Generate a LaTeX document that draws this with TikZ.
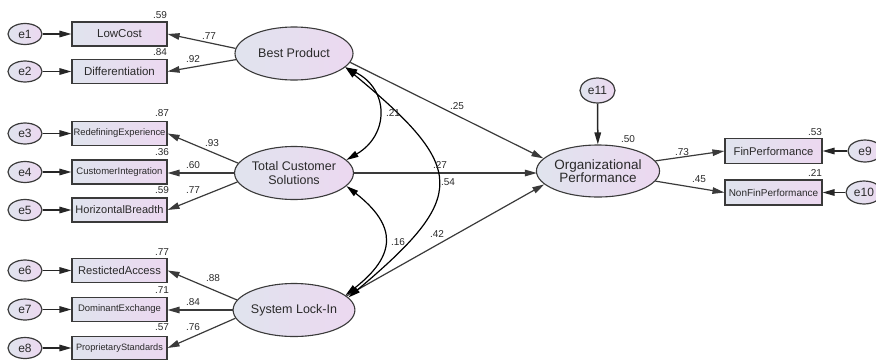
\documentclass[tikz,border=0pt]{standalone}
\usepackage{fontspec}
\setmainfont{Liberation Sans}
\usetikzlibrary{arrows.meta,shapes.geometric,calc}
\definecolor{lineg}{HTML}{3A3A3A}
\definecolor{fillL}{HTML}{E0E4EE}
\definecolor{fillR}{HTML}{ECD8F0}
\definecolor{txt}{HTML}{2A2A2A}
\tikzset{
  fs/.style={font=\fontsize{#1}{#1}\selectfont},
  obs/.style={draw=lineg, line width=1.1pt, rectangle, minimum width=95pt, minimum height=24pt,
    inner sep=0pt, left color=fillL, right color=fillR, text=txt},
  lat/.style={draw=lineg, line width=1.1pt, ellipse, minimum width=118pt, minimum height=53pt,
    inner sep=0pt, left color=fillL, right color=fillR, text=txt, align=center},
  err/.style={draw=lineg, line width=1.2pt, ellipse, minimum width=34pt, minimum height=21pt,
    inner sep=0pt, left color=fillL, right color=fillR, text=txt, fs=12},
  tip/.tip={Triangle[length=12pt,width=6.5pt]},
  reg/.style={draw=lineg, line width=1.2pt, -tip},
  ereg/.style={draw=black!85, line width=1.5pt, -tip},
  cov/.style={draw=black, line width=1.2pt, tip-tip},
  lbl/.style={fs=10, text=txt, inner sep=0pt},
}
\begin{document}
\begin{tikzpicture}[x=1pt,y=-1pt]
\useasboundingbox (0,0) rectangle (876,360);

% indicators left
\node[obs, fs=11.5] (x1) at (119.5,34) {LowCost};
\node[obs, fs=11.5] (x2) at (119.5,71.5) {Differentiation};
\node[obs, fs=9.4] (x3) at (119.5,133.5) {RedefiningExperience};
\node[obs, fs=9.5] (x4) at (119.5,172) {CustomerIntegration};
\node[obs, fs=11] (x5) at (119.5,210) {HorizontalBreadth};
\node[obs, fs=11.2] (x6) at (119.5,270.5) {RestictedAccess};
\node[obs, fs=9.5] (x7) at (119.5,309.5) {DominantExchange};
\node[obs, fs=9.2, minimum height=23pt] (x8) at (119.5,348) {ProprietaryStandards};

% error terms left
\node[err] (e1) at (25,34) {e1};
\node[err] (e2) at (25,71.5) {e2};
\node[err] (e3) at (25,133.5) {e3};
\node[err] (e4) at (25,172) {e4};
\node[err] (e5) at (25,210) {e5};
\node[err] (e6) at (25,270.5) {e6};
\node[err] (e7) at (25,309.5) {e7};
\node[err] (e8) at (25,348) {e8};

% latent
\node[lat, fs=12.5] (bp) at (294,53.5) {Best Product};
\node[lat, font=\fontsize{12.5}{14}\selectfont] (tcs) at (294,173) {Total Customer\\Solutions};
\node[lat, fs=12.5] (sli) at (294,310) {System Lock-In};
\node[lat, font=\fontsize{13.5}{13.5}\selectfont, minimum width=120pt, minimum height=52pt] (org) at (598,171) {Organizational\\Performance};

% right side
\node[err, minimum width=35pt, minimum height=25pt] (e11) at (597.5,90.5) {e11};
\node[obs, fs=11.2, minimum width=97pt, minimum height=25pt] (x9) at (773.5,151) {FinPerformance};
\node[obs, fs=10, minimum width=97pt, minimum height=25pt] (x10) at (773.5,192.5) {NonFinPerformance};
\node[err, minimum width=34pt, minimum height=22pt] (e9) at (865,151) {e9};
\node[err, minimum width=36pt, minimum height=23pt] (e10) at (864,192.5) {e10};

% error arrows
\foreach \i in {1,...,8} { \draw[ereg] (e\i) -- (x\i); }
\draw[ereg] (e9) -- (x9);
\draw[ereg] (e10) -- (x10);
\draw[ereg] (e11) -- (org);

% loadings
\draw[reg] (bp.175) -- (x1.east);
\draw[reg] (bp.186) -- (x2.east);
\draw[reg] (tcs.170) -- (x3.east);
\draw[reg] (tcs.west) -- (tcs.west -| x4.east);
\draw[reg] (tcs.189) -- (x5.east);
\draw[reg] (sli.170) -- (x6.east);
\draw[reg] (sli.west) -- (sli.west -| x7.east);
\draw[reg] (sli.188) -- (x8.east);
\draw[reg] (org.10) -- (x9.west);
\draw[reg] (org.-10) -- (x10.west);

% structural paths
\draw[reg] (bp.-9) -- (org.167);
\draw[reg] (tcs.east) -- ([xshift=1pt]tcs.east -| org.west);
\draw[reg] (sli.15) -- (org.194);

% covariances
\draw[cov] (bp.-15) .. controls +(44,22) and +(43,-25) .. (tcs.14);
\draw[cov] (bp.-15) .. controls +(122,101) and +(120,-101) .. (sli.13);
\draw[cov] (tcs.-14) .. controls +(51,40) and +(51,-40) .. (sli.16);

% squared multiple correlations
\node[lbl] (r1) at (160,15) {.59};
\node[lbl] (r2) at (160,52) {.84};
\node[lbl] (r3) at (162,113) {.87};
\node[lbl] (r4) at (162,152) {.36};
\node[lbl] (r5) at (162,190) {.59};
\node[lbl] (r6) at (162,252) {.77};
\node[lbl] (r7) at (162,290) {.71};
\node[lbl] (r8) at (162,327) {.57};
\node[lbl] (r9) at (815,132) {.53};
\node[lbl] (r10) at (815,173) {.21};
\node[lbl] (r11) at (628,139) {.50};

% loading labels
\node[lbl] (l1) at (209,36) {.77};
\node[lbl] (l2) at (193,59) {.92};
\node[lbl] (l3) at (212,143) {.93};
\node[lbl] (l4) at (193,165) {.60};
\node[lbl] (l5) at (193,190) {.77};
\node[lbl] (l6) at (213,278) {.88};
\node[lbl] (l7) at (193,302) {.84};
\node[lbl] (l8) at (193,327) {.76};
\node[lbl] (l9) at (682,152) {.73};
\node[lbl] (l10) at (699,179) {.45};

% structural labels
\node[lbl] (s1) at (457,106) {.25};
\node[lbl] (s2) at (440,165) {.27};
\node[lbl] (s3) at (437,234) {.42};
\node[lbl] (c1) at (393,113) {.21};
\node[lbl] (c2) at (448,182) {.54};
\node[lbl] (c3) at (398,242) {.16};
\end{tikzpicture}
\end{document}
